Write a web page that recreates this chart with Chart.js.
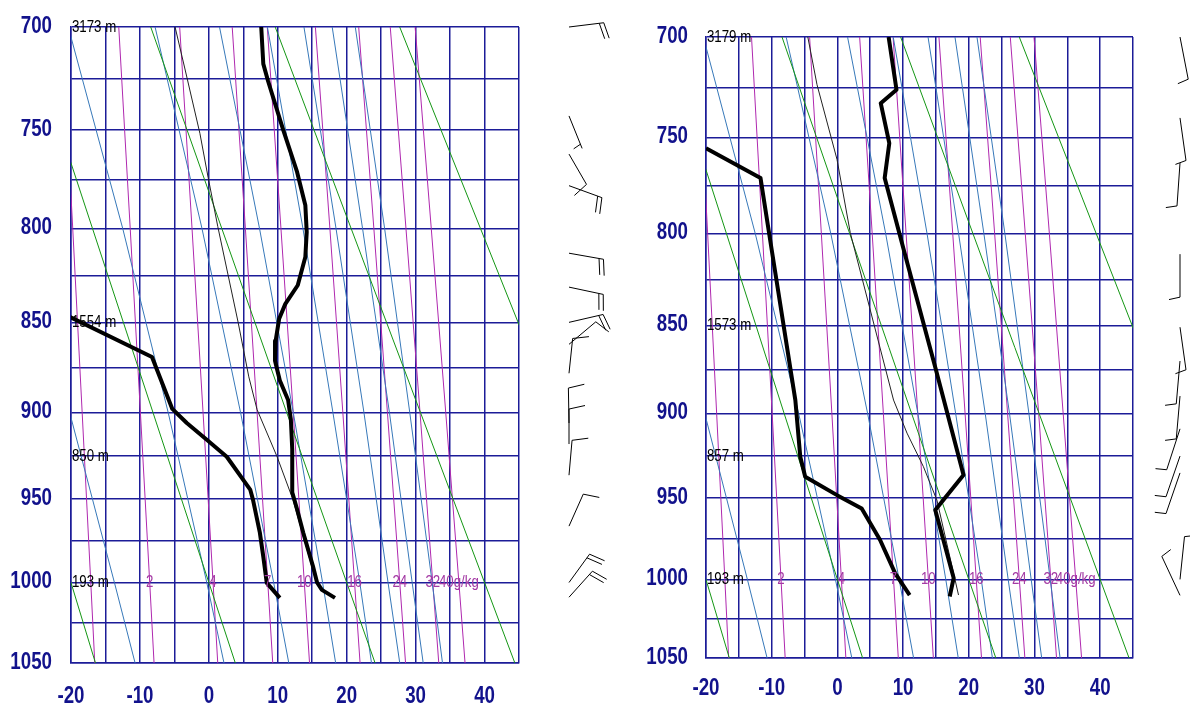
<!DOCTYPE html>
<html><head><meta charset="utf-8">
<script src="https://cdn.jsdelivr.net/npm/chart.js@4.4.1/dist/chart.umd.min.js"></script>
<style>
html,body{margin:0;padding:0;background:#fff;}
body{width:1190px;height:707px;position:relative;overflow:hidden;}
canvas{position:absolute;top:0;}
#left{left:0;} #right{left:640px;}
</style></head><body>
<canvas id="left" width="640" height="707" style="width:640px;height:707px"></canvas>
<canvas id="right" width="550" height="707" style="width:550px;height:707px"></canvas>
<script>
// ---------------- axis ticks ----------------
const pressureTicks = [700, 750, 800, 850, 900, 950, 1000, 1050];
const temperatureTicks = [-20, -10, 0, 10, 20, 30, 40];

// ---------------- background lines ----------------
// dry adiabats (green): temperature at 700 and 1050 hPa
const dryAdiabatP = [700, 1050];
const dryAdiabatT = [
  [-44.55, -16.45],
  [-26.49, 3.84],
  [-8.43, 24.12],
  [9.63, 44.40],
  [27.69, 64.68]
];
// moist adiabats (blue)
const moistAdiabatP = [700, 800, 900, 1000, 1050];
const moistAdiabatT = [
  [-36.2, -27.7, -20.2, -13.7, -10.7],
  [-20.4, -12.5, -5.9, -0.3, 2.2],
  [-7.8, -1.0, 4.6, 9.4, 11.6],
  [1.55, 7.35, 12.25, 16.5, 18.4],
  [8.5, 13.65, 18.0, 21.9, 23.6],
  [13.8, 18.45, 22.5, 26.0, 27.7],
  [17.9, 22.3, 26.2, 29.5, 31.1],
  [21.25, 25.5, 29.15, 32.4, 33.9]
];
// mixing ratio lines (magenta)
const mixRatioP = [700, 800, 900, 1000, 1050];
const mixRatioLabels = ['', '2', '4', '7', '10', '16', '24', '32', '40g/kg'];
const mixRatioT = [
  [-21.3, -19.75, -18.38, -17.13, -16.55],
  [-13.07, -11.41, -9.93, -8.58, -7.95],
  [-4.23, -2.44, -0.84, 0.61, 1.29],
  [3.39, 5.30, 7.00, 8.55, 9.27],
  [8.48, 10.46, 12.24, 13.85, 14.61],
  [15.46, 17.56, 19.44, 21.14, 21.94],
  [21.74, 23.94, 25.91, 27.70, 28.54],
  [26.32, 28.60, 30.64, 32.49, 33.36],
  [29.93, 32.27, 34.37, 36.28, 37.17]
];

// ---------------- left sounding ----------------
const leftTempP = [700, 717.6, 726, 750, 771, 788, 802, 815, 830, 840, 848, 860, 871, 882, 893, 904, 921, 946, 956, 970, 990, 1000, 1004.5, 1009.4];
const leftTempT = [7.6, 7.9, 8.6, 10.8, 12.8, 14.0, 14.2, 14.0, 12.9, 11.1, 10.2, 9.7, 9.6, 10.3, 11.5, 11.9, 12.1, 12.1, 12.8, 13.7, 15.1, 15.7, 16.4, 18.3];
const leftDewP = [847, 869, 898, 906, 915.5, 925.3, 944.4, 950.3, 969.9, 984.3, 1000.2, 1009.4];
const leftDewT = [-20.2, -8.25, -5.3, -3.2, -0.3, 2.6, 6.0, 6.4, 7.4, 7.9, 8.4, 10.3];
const leftParcelP = [700, 719.6, 751.6, 773.9, 799.1, 850, 880, 898.4, 925.3, 950.3, 1000];
const leftParcelT = [-4.9, -3.5, -1.3, -0.1, 1.3, 4.25, 5.8, 7.0, 9.9, 12.2, 15.6];
const leftHeightLevels = [700, 850, 925, 1000];
const leftHeightLabels = ['3173 m', '1554 m', '850 m', '193 m'];
const leftWindP = [700, 743, 762, 778, 813, 831, 850, 862, 878, 906, 918, 936, 966, 1000, 1009];
const leftWindDir = [83, 158, 150, 110, 100, 102, 77, 50, 6, 359, 0, 5, 24, 36, 42];
const leftWindSpd = [20, 5, 10, 20, 20, 20, 20, 10, 10, 10, 10, 10, 10, 20, 20];

// ---------------- right sounding ----------------
const rightTempP = [700, 725.9, 732.6, 752.8, 770.8, 808.6, 875, 936.2, 957.3, 999.1, 1010.7];
const rightTempT = [7.8, 9.0, 6.6, 7.9, 7.2, 10.1, 15.0, 19.2, 14.9, 17.7, 17.1];
const rightDewP = [755.4, 770.8, 808.6, 892.3, 925.4, 937.3, 948.3, 956.4, 975.6, 996.2, 1009.8];
const rightDewT = [-20, -11.7, -10.0, -6.4, -5.65, -4.9, -0.06, 3.7, 6.5, 8.8, 11.0];
const rightParcelP = [700, 723.4, 761.1, 799.5, 892.3, 911.5, 931.3, 951.3, 1009.8];
const rightParcelT = [-4.5, -3.1, -0.06, 1.96, 8.55, 10.6, 13.1, 15.15, 18.44];
const rightHeightLevels = [700, 850, 925, 1000];
const rightHeightLabels = ['3179 m', '1573 m', '857 m', '193 m'];
const rightWindP = [700, 740, 763, 811, 851, 870, 890, 909, 925, 935, 1000, 1010];
const rightWindDir = [169, 172, 184, 180, 172, 185, 185, 198, 199, 199, 6, 335];
const rightWindSpd = [10, 10, 10, 10, 10, 10, 10, 10, 10, 10, 10, 10];

// ---------------- custom pressure scale (y proportional to p^0.286) ----------------
const KAPPA = 0.286;
class StuveScale extends Chart.LinearScale {
  getPixelForValue(v) {
    if (v === null || v === undefined || isNaN(v)) return NaN;
    const a = Math.pow(this.min, KAPPA), b = Math.pow(this.max, KAPPA);
    return this.getPixelForDecimal((Math.pow(v, KAPPA) - a) / (b - a));
  }
  getValueForPixel(px) {
    const a = Math.pow(this.min, KAPPA), b = Math.pow(this.max, KAPPA);
    return Math.pow(a + this.getDecimalForPixel(px) * (b - a), 1 / KAPPA);
  }
}
StuveScale.id = 'stuve';
StuveScale.defaults = Chart.LinearScale.defaults;
Chart.register(StuveScale);

const SANS = "'Liberation Sans', Arial, sans-serif";
const GRID = 'rgb(28,28,152)';
const AXISCOL = '#12128c';

function pts(P, T) { return P.map((p, i) => ({x: T[i], y: p})); }

function narrowText(ctx, text, x, y, align, sx) {
  ctx.save();
  ctx.translate(x, y);
  ctx.scale(sx, 1);
  ctx.textAlign = align;
  ctx.fillText(text, 0, 0);
  ctx.restore();
}

function drawBarb(ctx, x0, y0, dir, spd, L, fl) {
  const gap = 4.5, slant = 0.22;
  const a = dir * Math.PI / 180;
  const ux = Math.sin(a), uy = -Math.cos(a);
  const px = -uy, py = ux;
  const tx = x0 + ux * L, ty = y0 + uy * L;
  ctx.beginPath();
  ctx.moveTo(x0, y0); ctx.lineTo(tx, ty);
  const n = Math.round(spd / 5);
  const full = Math.floor(n / 2), half = n % 2;
  let s = 0;
  const fx = px + ux * slant, fy = py + uy * slant;
  for (let i = 0; i < full; i++) {
    const bx = tx - ux * s, by = ty - uy * s;
    ctx.moveTo(bx, by); ctx.lineTo(bx + fx * fl, by + fy * fl);
    s += gap;
  }
  if (half) {
    if (full === 0) s = gap;
    const bx = tx - ux * s, by = ty - uy * s;
    ctx.moveTo(bx, by); ctx.lineTo(bx + fx * fl / 2, by + fy * fl / 2);
  }
  ctx.stroke();
}

const overlayPlugin = {
  id: 'overlay',
  afterDatasetsDraw(chart, args, o) {
    const ctx = chart.ctx, xs = chart.scales.x, ys = chart.scales.y, area = chart.chartArea;
    ctx.save();
    ctx.textBaseline = 'middle';
    // axis tick labels
    ctx.font = 'bold 24px ' + SANS;
    ctx.fillStyle = AXISCOL;
    pressureTicks.forEach(p => narrowText(ctx, String(p), area.left - o.yPad, ys.getPixelForValue(p) - 1, 'right', 0.78));
    temperatureTicks.forEach(t => narrowText(ctx, String(t), xs.getPixelForValue(t), area.bottom + o.xOff, 'center', 0.78));
    // mixing ratio labels at 1000 hPa
    ctx.font = '17px ' + SANS;
    ctx.fillStyle = '#a43aa4';
    const i1000 = mixRatioP.indexOf(1000);
    mixRatioLabels.forEach((lab, k) => {
      if (!lab) return;
      narrowText(ctx, lab, xs.getPixelForValue(mixRatioT[k][i1000]), ys.getPixelForValue(1000), 'center', 0.78);
    });
    // height labels
    ctx.fillStyle = '#000';
    o.levels.forEach((p, i) => narrowText(ctx, o.labels[i], area.left + 1, ys.getPixelForValue(p), 'left', 0.78));
    // wind barbs
    ctx.strokeStyle = '#000';
    ctx.lineWidth = 1;
    o.windP.forEach((p, i) => drawBarb(ctx, area.right + o.barbOffset, ys.getPixelForValue(p), o.windDir[i], o.windSpd[i], o.staff, o.feather));
    ctx.restore();
  }
};

function makePanel(id, cfg) {
  const datasets = [];
  datasets.push({data: pts(cfg.tempP, cfg.tempT), borderColor: '#000', borderWidth: 4, order: 0});
  datasets.push({data: pts(cfg.dewP, cfg.dewT), borderColor: '#000', borderWidth: 4, order: 0});
  datasets.push({data: pts(cfg.parcelP, cfg.parcelT), borderColor: '#222', borderWidth: 1, order: 1});
  dryAdiabatT.forEach(row => datasets.push({data: pts(dryAdiabatP, row), borderColor: 'rgb(20,150,20)', borderWidth: 1, order: 2}));
  moistAdiabatT.forEach(row => datasets.push({data: pts(moistAdiabatP, row), borderColor: 'rgb(55,120,185)', borderWidth: 1, order: 3}));
  mixRatioT.forEach(row => datasets.push({data: pts(mixRatioP, row), borderColor: 'rgb(175,40,175)', borderWidth: 1, order: 4}));
  datasets.forEach(d => { d.pointRadius = 0; d.tension = 0; d.fill = false; d.showLine = true; d.borderJoinStyle = 'round'; });
  return new Chart(document.getElementById(id), {
    type: 'line',
    data: {datasets},
    options: {
      responsive: false, animation: false, events: [],
      layout: {padding: {left: 0, top: cfg.area.top, right: cfg.canvasW - cfg.area.right, bottom: 0}},
      plugins: {legend: {display: false}, tooltip: {enabled: false},
        overlay: {levels: cfg.levels, labels: cfg.labels, windP: cfg.windP, windDir: cfg.windDir, windSpd: cfg.windSpd,
          barbOffset: cfg.barbOffset, staff: cfg.staff, feather: cfg.feather, yPad: cfg.yPad, xOff: cfg.xOff}},
      scales: {
        x: {
          type: 'linear', min: -20, max: 45,
          afterBuildTicks: s => { s.ticks = []; for (let v = -20; v <= 45; v += 5) s.ticks.push({value: v}); },
          ticks: {display: false},
          grid: {color: GRID, lineWidth: 1.5, drawTicks: false},
          border: {color: GRID, width: 1.5},
          afterFit: s => { s.height = 707 - cfg.area.bottom; }
        },
        y: {
          type: 'stuve', min: 700, max: 1050, reverse: true,
          afterBuildTicks: s => { s.ticks = []; for (let v = 700; v <= 1050; v += 25) s.ticks.push({value: v}); },
          ticks: {display: false},
          grid: {color: GRID, lineWidth: 1.5, drawTicks: false},
          border: {color: GRID, width: 1.5},
          afterFit: s => { s.width = cfg.area.left; }
        }
      }
    },
    plugins: [overlayPlugin]
  });
}

makePanel('left', {
  canvasW: 640, area: {left: 71, top: 27, right: 519, bottom: 663}, yPad: 19, xOff: 33, barbOffset: 50, staff: 35, feather: 16,
  tempP: leftTempP, tempT: leftTempT, dewP: leftDewP, dewT: leftDewT, parcelP: leftParcelP, parcelT: leftParcelT,
  levels: leftHeightLevels, labels: leftHeightLabels, windP: leftWindP, windDir: leftWindDir, windSpd: leftWindSpd
});
makePanel('right', {
  canvasW: 550, area: {left: 66, top: 37, right: 493, bottom: 658}, yPad: 18, xOff: 30, barbOffset: 47, staff: 43, feather: 11,
  tempP: rightTempP, tempT: rightTempT, dewP: rightDewP, dewT: rightDewT, parcelP: rightParcelP, parcelT: rightParcelT,
  levels: rightHeightLevels, labels: rightHeightLabels, windP: rightWindP, windDir: rightWindDir, windSpd: rightWindSpd
});
</script>
</body></html>
